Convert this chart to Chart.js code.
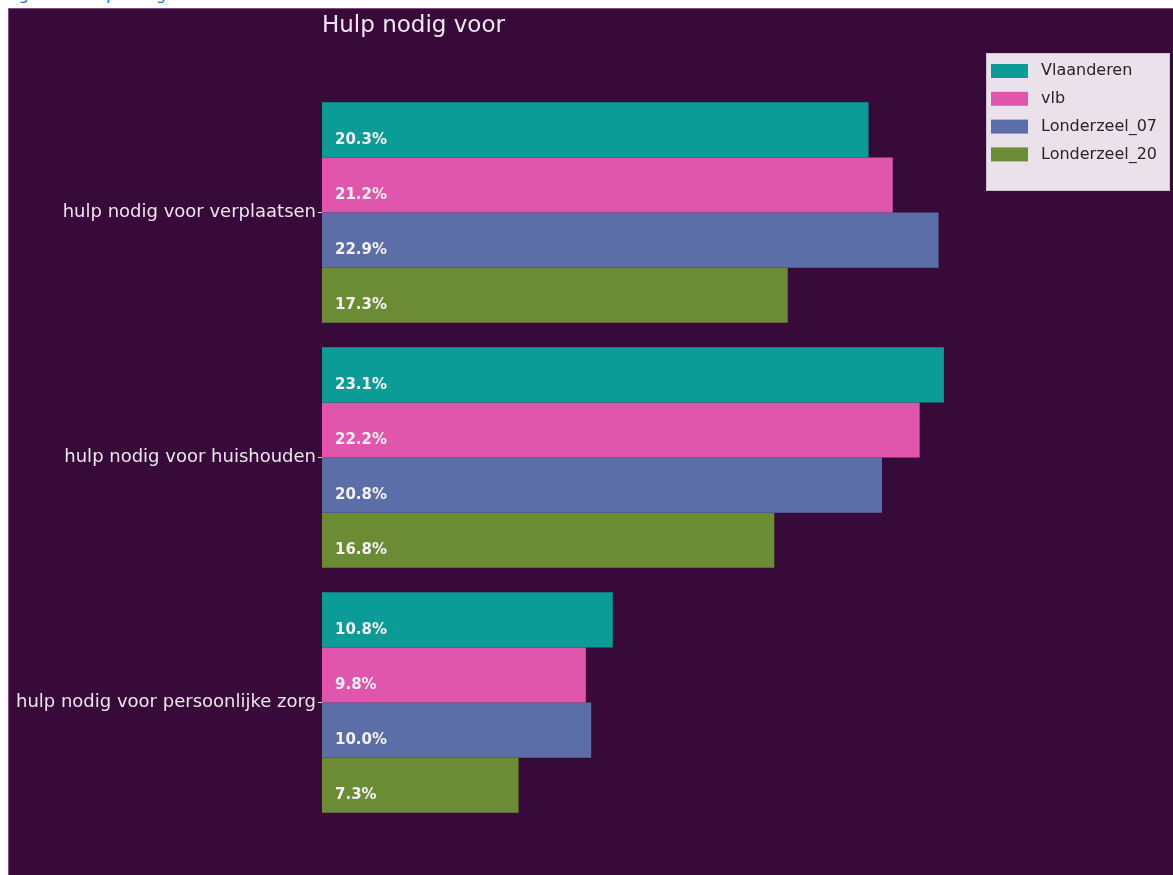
<!DOCTYPE html>
<html>
<head>
<meta charset="utf-8">
<script src="https://cdn.jsdelivr.net/npm/chart.js@4.4.1/dist/chart.umd.min.js"></script>
<style>
  body { margin: 0; background: #fff; width: 1173px; height: 875px; overflow: hidden; position: relative; }
  #cap { position: absolute; left: 6px; top: -15px; font: 16px "DejaVu Sans", sans-serif; color: #2f6fd6; white-space: nowrap; }
  #wrap { position: absolute; left: 8px; top: 8px; width: 1165px; height: 867px; background: #380a3a;
          border-left: 1px solid #7d4d7d; border-top: 1px solid #7d4d7d; box-sizing: border-box; }
</style>
</head>
<body>
<div id="cap">Figuur 9: hulp nodig voor</div>
<div id="wrap"><canvas id="chart"></canvas></div>
<script>
const categories = ['hulp nodig voor verplaatsen', 'hulp nodig voor huishouden', 'hulp nodig voor persoonlijke zorg'];
const seriesNames = ['Vlaanderen', 'vlb', 'Londerzeel_07', 'Londerzeel_20'];
const vlaanderen = [20.3, 23.1, 10.8];
const vlb = [21.2, 22.2, 9.8];
const londerzeel07 = [22.9, 20.8, 10.0];
const londerzeel20 = [17.3, 16.8, 7.3];
const colors = ['#0b9c98', '#e056ad', '#5b6ea8', '#6b8c34'];

const allValues = [vlaanderen, vlb, londerzeel07, londerzeel20];

// title, labels inside the bars and the legend box
const extras = {
  id: 'extras',
  afterDatasetsDraw(chart) {
    const ctx = chart.ctx;
    ctx.save();
    ctx.fillStyle = '#f4f0f4';
    ctx.font = 'bold 15px "DejaVu Sans"';
    ctx.textBaseline = 'middle';
    chart.data.datasets.forEach((ds, i) => {
      chart.getDatasetMeta(i).data.forEach((bar, j) => {
        ctx.fillText(ds.data[j].toFixed(1) + '%', bar.base + 13, bar.y + 10);
      });
    });
    ctx.restore();
  },
  afterDraw(chart) {
    const ctx = chart.ctx;
    const area = chart.chartArea;
    ctx.save();
    // title
    ctx.fillStyle = '#f0e8f0';
    ctx.font = '23px "DejaVu Sans"';
    ctx.textBaseline = 'middle';
    ctx.fillText('Hulp nodig voor', area.left, 17);
    // legend
    const lx = 977, ly = 44, lw = 184, lh = 138;
    ctx.fillStyle = '#ebe1ea';
    ctx.strokeStyle = '#cfc3cf';
    ctx.lineWidth = 1;
    ctx.fillRect(lx, ly, lw, lh);
    ctx.strokeRect(lx + 0.5, ly + 0.5, lw - 1, lh - 1);
    ctx.font = '16px "DejaVu Sans"';
    chart.data.datasets.forEach((ds, i) => {
      const y = 62 + i * 27.8;
      ctx.fillStyle = ds.backgroundColor;
      ctx.fillRect(982, y - 7, 37, 14);
      ctx.fillStyle = '#262626';
      ctx.fillText(ds.label, 1032, y);
    });
    ctx.restore();
  }
};

new Chart(document.getElementById('chart'), {
  type: 'bar',
  data: {
    labels: categories,
    datasets: seriesNames.map((name, i) => ({
      label: name,
      data: allValues[i],
      backgroundColor: colors[i],
      borderWidth: 0,
      barPercentage: 1,
      categoryPercentage: 0.9
    }))
  },
  options: {
    indexAxis: 'y',
    responsive: true,
    maintainAspectRatio: false,
    animation: false,
    layout: { padding: { top: 81, bottom: 50, left: 0, right: 198 } },
    plugins: {
      legend: { display: false },
      title: { display: false },
      tooltip: { enabled: false }
    },
    scales: {
      x: { display: false, min: 0, max: 24.255 },
      y: {
        afterFit(scale) { scale.width = 313; },
        border: { display: false },
        grid: { drawOnChartArea: false, offset: false, tickLength: 4, color: '#e0d4e0' },
        ticks: { color: '#eee4ee', font: { family: 'DejaVu Sans', size: 18 }, padding: 2 }
      }
    }
  },
  plugins: [extras]
});
</script>
</body>
</html>
